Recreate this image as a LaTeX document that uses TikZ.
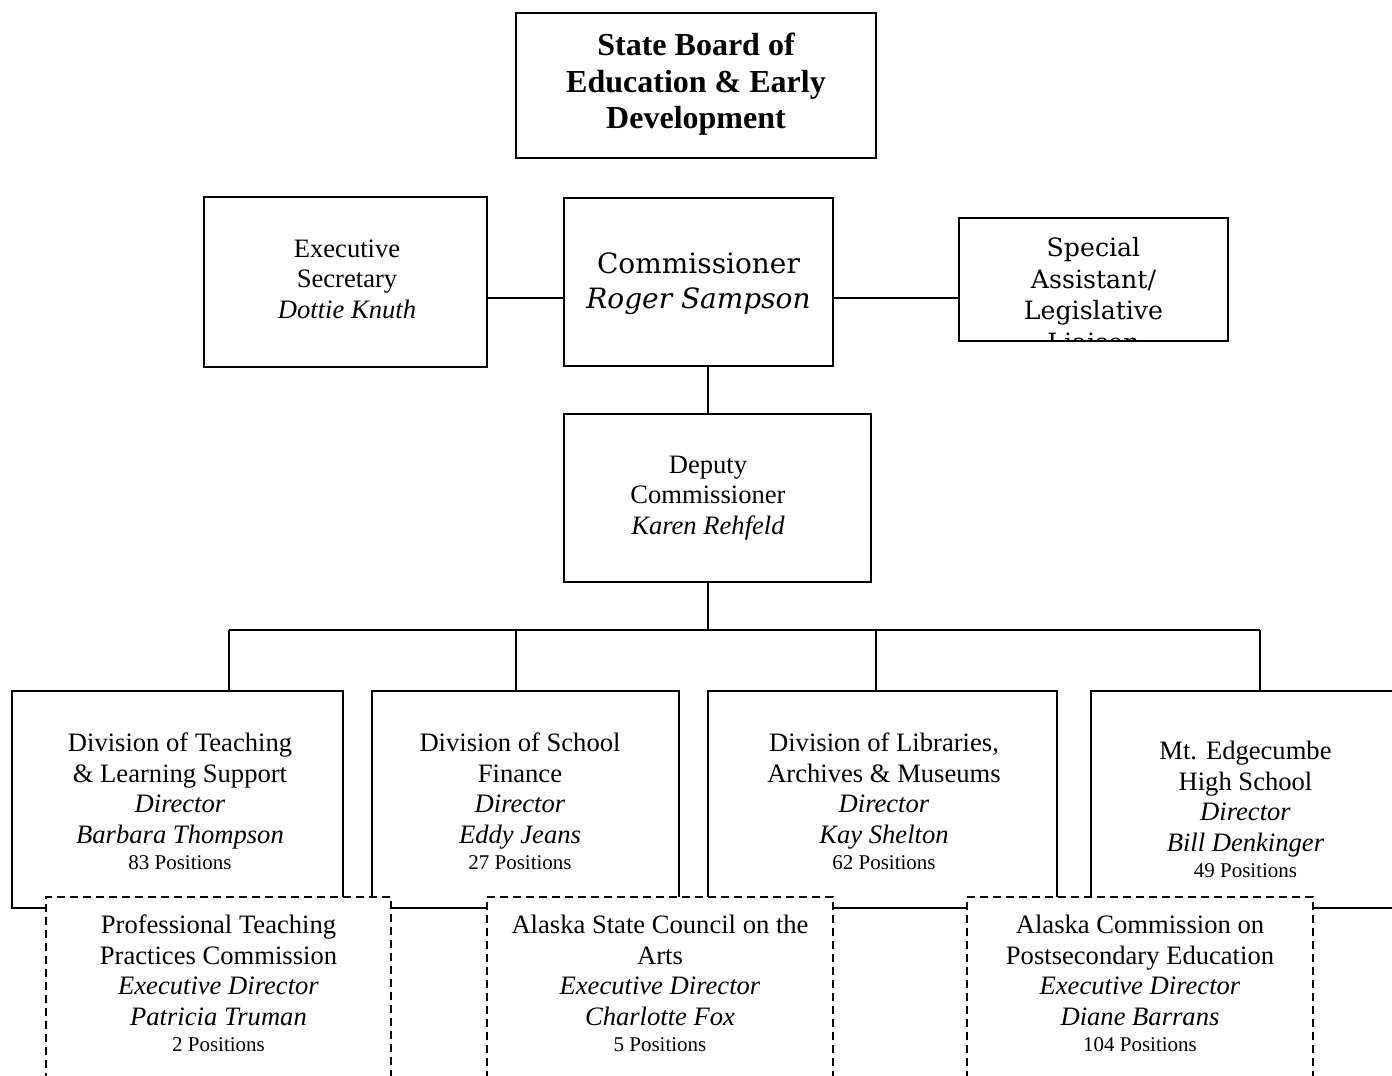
\documentclass[tikz,border=0pt]{standalone}
\usepackage{fontspec}
\setmainfont{Liberation Serif}
\newfontfamily\bkfont{DejaVu Serif}
\newcommand\tnr{\fontsize{13.3}{15.3}\selectfont}
\newcommand\possz{\fontsize{10.5}{12}\selectfont}
\begin{document}
\begin{tikzpicture}[x=0.5pt, y=-0.5pt,
  sbox/.style={draw, line width=1pt, fill=white, inner sep=0pt},
  dbox/.style={draw, line width=0.8pt, dash pattern=on 4pt off 2.5pt, fill=white, inner sep=0pt},
  conn/.style={line width=1pt},
  tx/.style={align=center, font=\tnr}]
\useasboundingbox (0,0) rectangle (1392,1076);
\fill[white] (0,0) rectangle (1392,1076);

\node[sbox, minimum width=180pt, minimum height=72.5pt,
  label={[yshift=0.5pt, align=center, font=\bfseries\fontsize{16}{18.3}\selectfont]center:{State Board of\\Education \& Early\\Development}}] (board) at (696,85.5) {};

\node[sbox, minimum width=141.5pt, minimum height=85pt,
  label={[yshift=1.5pt, xshift=0.75pt, tx]center:{Executive\\Secretary\\\textit{Dottie Knuth}}}] (exec) at (345.5,282) {};

\node[sbox, minimum width=134.5pt, minimum height=84pt,
  label={[yshift=-0.75pt, align=center, font=\bkfont\fontsize{14}{17.5}\selectfont]center:{Commissioner\\\textit{Roger Sampson}}}] (comm) at (698.5,282) {};

\node[sbox, minimum width=134.5pt, minimum height=61.5pt,
  path picture={\node[align=center, font=\bkfont\fontsize{12.6}{15.8}\selectfont, yshift=-7.5pt] at (path picture bounding box.center) {Special\\Assistant/\\Legislative\\Liaison};}] (spec) at (1093.5,279.5) {};

\node[sbox, minimum width=153.5pt, minimum height=84pt,
  label={[yshift=0pt, xshift=-4.75pt, tx]center:{Deputy\\Commissioner\\\textit{Karen Rehfeld}}}] (dep) at (717.5,498) {};

\node[sbox, minimum width=165.5pt, minimum height=108.5pt,
  label={[xshift=1.25pt, yshift=-1pt, tx]center:{Division of Teaching\\\& Learning Support\\\textit{Director}\\\textit{Barbara Thompson}\\[-2pt]{\possz 83 Positions}}}] (div1) at (177.5,799.5) {};
\node[sbox, minimum width=153.5pt, minimum height=108.5pt,
  label={[xshift=-2.75pt, yshift=-1pt, tx]center:{Division of School\\Finance\\\textit{Director}\\\textit{Eddy Jeans}\\[-2pt]{\possz 27 Positions}}}] (div2) at (525.5,799.5) {};
\node[sbox, minimum width=174.5pt, minimum height=108.5pt,
  label={[xshift=0.75pt, yshift=-1pt, tx]center:{Division of Libraries,\\Archives \& Museums\\\textit{Director}\\\textit{Kay Shelton}\\[-2pt]{\possz 62 Positions}}}] (div3) at (882.5,799.5) {};
\node[sbox, minimum width=154.5pt, minimum height=108.5pt,
  label={[yshift=-5pt, tx]center:{Mt. Edgecumbe\\High School\\\textit{Director}\\\textit{Bill Denkinger}\\[-2pt]{\possz 49 Positions}}}] (div4) at (1245.5,799.5) {};

\coordinate (hl) at (700,298);
\draw[conn] (exec.east |- hl) -- (comm.west |- hl);
\draw[conn] (comm.east |- hl) -- (spec.west |- hl);
\coordinate (spine) at (708,630);
\draw[conn] (comm.south -| spine) -- (dep.north -| spine);
\draw[conn] (dep.south -| spine) -- (spine);
\coordinate (b1) at (229,630);
\coordinate (b2) at (516,630);
\coordinate (b3) at (876,630);
\coordinate (b4) at (1260,630);
\draw[conn] (b1) -- (b4);
\draw[conn] (b1) -- (b1 |- div1.north);
\draw[conn] (b2) -- (b2 |- div2.north);
\draw[conn] (b3) -- (b3 |- div3.north);
\draw[conn] (b4) -- (b4 |- div4.north);

\node[dbox, minimum width=172.5pt, minimum height=100pt,
  label={[yshift=6.75pt, tx]center:{Professional Teaching\\Practices Commission\\\textit{Executive Director}\\\textit{Patricia Truman}\\[-2pt]{\possz 2 Positions}}}] (pc) at (218.5,997) {};
\node[dbox, minimum width=173pt, minimum height=100pt,
  label={[yshift=6.75pt, tx]center:{Alaska State Council on the\\Arts\\\textit{Executive Director}\\\textit{Charlotte Fox}\\[-2pt]{\possz 5 Positions}}}] (arts) at (660,997) {};
\node[dbox, minimum width=173pt, minimum height=100pt,
  label={[yshift=6.75pt, tx]center:{Alaska Commission on\\Postsecondary Education\\\textit{Executive Director}\\\textit{Diane Barrans}\\[-2pt]{\possz 104 Positions}}}] (acpe) at (1140,997) {};
\end{tikzpicture}
\end{document}
